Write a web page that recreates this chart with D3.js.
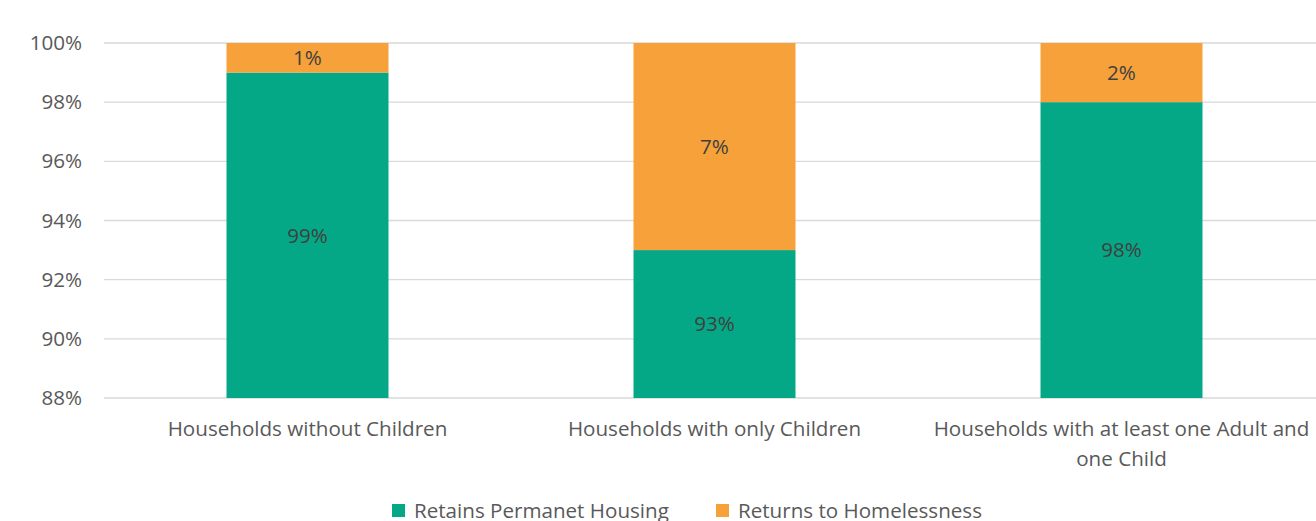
<!DOCTYPE html>
<html><head><meta charset="utf-8">
<script src="https://cdn.jsdelivr.net/npm/d3@7"></script>
<style>body{margin:0;background:#fff}svg{display:block}text{font-family:"Open Sans",Lato,sans-serif}</style>
</head><body><svg id="c" width="1316" height="521"></svg>
<script>
const categories = ["Households without Children","Households with only Children","Households with at least one Adult and one Child"];
const categoryLines = [["Households without Children"],["Households with only Children"],["Households with at least one Adult and","one Child"]];
const seriesNames = ["Retains Permanet Housing","Returns to Homelessness"];
const retains = [0.99,0.93,0.98];
const returns = [0.01,0.07,0.02];
const tickValues = [0.88,0.90,0.92,0.94,0.96,0.98,1.00];
const colors = ["#05A886","#F6A13A"];

(function(){
const svg = d3.select("#c");
const mLeft = 104, mTop = 43, mBottom = 398;
const fs = 20.6;
const x = d3.scaleBand().domain(categories).range([mLeft, mLeft + 3*407]).paddingInner(0.602).paddingOuter(0.301);
const y = d3.scaleLinear().domain([0.88,1.0]).range([mBottom, mTop]);
const fmt = d3.format(".0%");

svg.append("g").selectAll("line").data(tickValues).join("line")
  .attr("x1", mLeft).attr("x2", 1316)
  .attr("y1", d=>y(d)).attr("y2", d=>y(d))
  .attr("stroke","#d9d9d9").attr("stroke-width",1.3);

const yAxis = d3.axisLeft(y).tickValues(tickValues).tickFormat(fmt).tickSize(0).tickPadding(0);
const ga = svg.append("g").attr("transform",`translate(82,0)`).call(yAxis);
ga.select(".domain").remove();
ga.attr("font-family",null).attr("font-size",null);
ga.selectAll("text").attr("fill","#595959").attr("font-size",fs);

const data = categories.map((c,i)=>({c, r:retains[i], h:returns[i]}));
svg.append("g").selectAll("rect").data(data).join("rect")
  .attr("x", d=>x(d.c)).attr("width", x.bandwidth())
  .attr("y", d=>y(d.r)).attr("height", d=>y(0.88)-y(d.r))
  .attr("fill", colors[0]);
svg.append("g").selectAll("rect").data(data).join("rect")
  .attr("x", d=>x(d.c)).attr("width", x.bandwidth())
  .attr("y", d=>y(d.r+d.h)).attr("height", d=>y(d.r)-y(d.r+d.h))
  .attr("fill", colors[1]);

const lab = svg.append("g").attr("font-size",fs).attr("fill","#404040").attr("text-anchor","middle");
lab.selectAll("text.r").data(data).join("text").attr("class","r")
  .attr("x", d=>x(d.c)+x.bandwidth()/2).attr("y", d=>y((0.88+d.r)/2)).attr("dy","0.35em")
  .text(d=>fmt(d.r));
lab.selectAll("text.h").data(data).join("text").attr("class","h")
  .attr("x", d=>x(d.c)+x.bandwidth()/2).attr("y", d=>y(d.r+d.h/2)).attr("dy","0.35em")
  .text(d=>fmt(d.h));

const xl = svg.append("g").attr("font-size",fs).attr("fill","#595959").attr("text-anchor","middle");
categories.forEach((c,i)=>{
  const cx = x(c)+x.bandwidth()/2;
  const t = xl.append("text").attr("x", cx).attr("y",429);
  categoryLines[i].forEach((ln,j)=>{
    t.append("tspan").attr("x", cx).attr("dy", j===0?"0.35em":"30px").text(ln);
  });
});

const legX = [392, 716];
const lg = svg.append("g");
seriesNames.forEach((s,i)=>{
  lg.append("rect").attr("x",legX[i]).attr("y",504).attr("width",13).attr("height",13).attr("fill",colors[i]);
  lg.append("text").attr("x",legX[i]+22).attr("y",511).attr("dy","0.35em").attr("font-size",fs).attr("fill","#595959").text(s);
});
})();
</script></body></html>
